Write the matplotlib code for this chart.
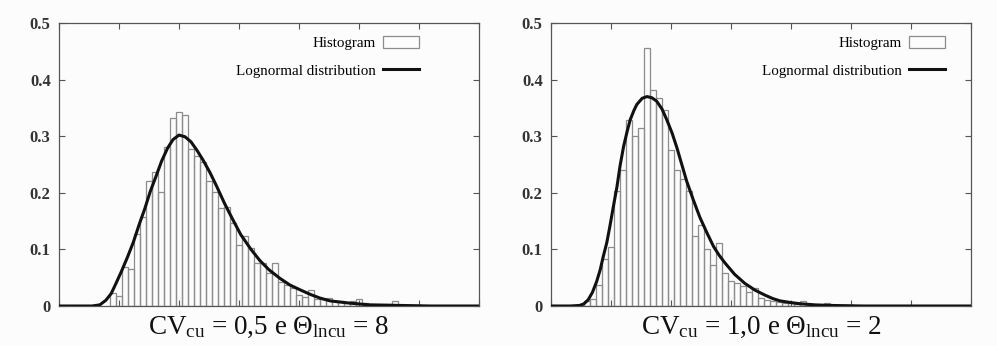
import matplotlib
matplotlib.use("Agg")
import matplotlib.pyplot as plt
from matplotlib.patches import Patch
from matplotlib.lines import Line2D

plt.rcParams['font.family'] = ['Liberation Serif', 'DejaVu Serif']
plt.rcParams['mathtext.fontset'] = 'custom'
plt.rcParams['mathtext.rm'] = 'Liberation Serif'
plt.rcParams['mathtext.it'] = 'Liberation Serif:italic'

# ---------------- data ----------------
bin_width = 0.1

# Left panel: CV = 0.5, Theta = 8
left_centers = [round(0.9 + 0.1 * k, 1) for k in range(52)]
left_heights = [0.023, 0.017, 0.069, 0.065, 0.127, 0.157, 0.221, 0.237, 0.202, 0.281,
                0.332, 0.342, 0.337, 0.277, 0.265, 0.255, 0.220, 0.202, 0.173, 0.175,
                0.146, 0.108, 0.124, 0.102, 0.076, 0.076, 0.058, 0.076, 0.042, 0.037,
                0.031, 0.019, 0.016, 0.029, 0.013, 0.012, 0.015, 0.009, 0.008, 0.007,
                0.009, 0.012, 0.005, 0.004, 0.004, 0.003, 0.003, 0.008, 0.002, 0.002,
                0.001, 0.001]
left_curve_x = [0.0, 0.55, 0.68, 0.78, 0.87, 0.95, 1.04, 1.14, 1.24, 1.33, 1.43, 1.52,
                1.62, 1.71, 1.81, 1.90, 2.00, 2.10, 2.20, 2.30, 2.40, 2.52, 2.63, 2.76,
                2.90, 3.03, 3.20, 3.35, 3.50, 3.68, 3.85, 4.03, 4.20, 4.35, 4.52, 4.85,
                5.18, 5.68, 6.20, 7.00]
left_curve_y = [0.0, 0.0, 0.002, 0.010, 0.022, 0.040, 0.061, 0.086, 0.113, 0.142, 0.172,
                0.202, 0.230, 0.256, 0.279, 0.294, 0.302, 0.299, 0.290, 0.275, 0.258,
                0.235, 0.211, 0.181, 0.152, 0.126, 0.100, 0.080, 0.064, 0.049, 0.037,
                0.028, 0.020, 0.014, 0.009, 0.005, 0.002, 0.001, 0.0, 0.0]

# Right panel: CV = 1.0, Theta = 2
right_centers = [round(0.5 + 0.1 * k, 1) for k in range(46)]
right_heights = [0.002, 0.008, 0.012, 0.037, 0.083, 0.105, 0.204, 0.241, 0.329, 0.301,
                 0.315, 0.456, 0.381, 0.368, 0.347, 0.276, 0.241, 0.225, 0.204, 0.124,
                 0.143, 0.100, 0.073, 0.111, 0.058, 0.045, 0.040, 0.035, 0.024, 0.031,
                 0.014, 0.011, 0.009, 0.007, 0.005, 0.005, 0.004, 0.009, 0.004, 0.002,
                 0.002, 0.006, 0.002, 0.001, 0.001, 0.001]
right_curve_x = [0.0, 0.32, 0.48, 0.55, 0.62, 0.69, 0.76, 0.82, 0.87, 0.93, 0.98, 1.04,
                 1.10, 1.15, 1.21, 1.27, 1.32, 1.38, 1.43, 1.52, 1.60, 1.68, 1.76, 1.85,
                 1.93, 2.02, 2.10, 2.18, 2.26, 2.37, 2.48, 2.60, 2.71, 2.80, 2.90, 3.06,
                 3.23, 3.40, 3.57, 3.70, 3.82, 4.00, 4.15, 4.40, 4.65, 5.20, 7.00]
right_curve_y = [0.0, 0.0, 0.001, 0.004, 0.011, 0.024, 0.043, 0.064, 0.087, 0.112, 0.140,
                 0.176, 0.211, 0.247, 0.282, 0.309, 0.329, 0.345, 0.356, 0.367, 0.370,
                 0.368, 0.362, 0.348, 0.329, 0.305, 0.279, 0.250, 0.221, 0.188, 0.157,
                 0.129, 0.105, 0.090, 0.076, 0.056, 0.040, 0.028, 0.019, 0.013, 0.009,
                 0.006, 0.004, 0.002, 0.001, 0.0, 0.0]

titles = [r'CV$_{\mathrm{cu}}$ = 0,5 e $\Theta_{\mathrm{lncu}}$ = 8',
          r'CV$_{\mathrm{cu}}$ = 1,0 e $\Theta_{\mathrm{lncu}}$ = 2']
yticks = [0, 0.1, 0.2, 0.3, 0.4, 0.5]
ytick_labels = ['0', '0.1', '0.2', '0.3', '0.4', '0.5']
legend_labels = ['Histogram', 'Lognormal distribution']

# ---------------- figure ----------------
W, H = 997, 346
fig = plt.figure(figsize=(W / 100, H / 100), dpi=100)
fig.patch.set_facecolor('#fcfcfc')

panels = [
    (left_centers, left_heights, left_curve_x, left_curve_y, titles[0], 59, 0.882),
    (right_centers, right_heights, right_curve_x, right_curve_y, titles[1], 551, 0.962),
]

for centers, heights, cx, cy, title, x0, leg_x in panels:
    ax = fig.add_axes([x0 / W, 40 / H, 420 / W, 283 / H])
    ax.set_facecolor('#fcfcfc')
    ax.bar(centers, heights, width=bin_width, facecolor='none',
           edgecolor='#8c8c8c', linewidth=0.9, zorder=2)
    ax.plot(cx, cy, color='#111111', linewidth=2.2, zorder=3,
            solid_joinstyle='round', solid_capstyle='round')
    ax.set_xlim(0, 7)
    ax.set_ylim(0, 0.5)
    ax.set_xticks(range(0, 8))
    ax.set_xticklabels([])
    ax.set_yticks(yticks)
    ax.set_yticklabels(ytick_labels)
    ax.tick_params(axis='both', direction='in', length=4, width=0.8,
                   color='#555555', top=True, right=True)
    ax.tick_params(axis='y', labelsize=12, pad=6, labelcolor='#333333')
    for lab in ax.get_yticklabels():
        lab.set_fontweight('bold')
    for sp in ax.spines.values():
        sp.set_color('#555555')
        sp.set_linewidth(0.9)
    handles = [Patch(facecolor='none', edgecolor='#8c8c8c', linewidth=0.9),
               Line2D([], [], color='#111111', linewidth=2.2)]
    ax.legend(handles, legend_labels, loc='upper right', frameon=False,
              markerfirst=False, fontsize=10.8, handlelength=2.4,
              handleheight=0.8, borderaxespad=0.3, labelspacing=0.9,
              handletextpad=0.45, bbox_to_anchor=(leg_x, 0.99))
    fig.text((x0 + 210) / W, (H - 327) / H, title, ha='center', va='center',
             fontsize=19.5, color='#111111')

fig.savefig('out.png', dpi=100, facecolor=fig.get_facecolor())
